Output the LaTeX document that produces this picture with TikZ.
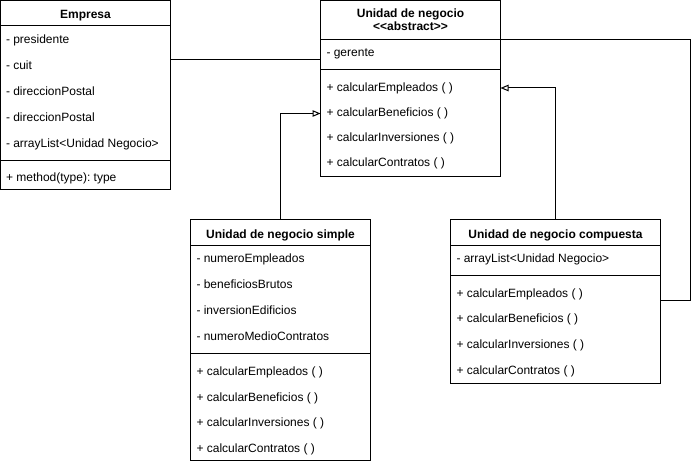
\documentclass[tikz,border=0pt]{standalone}
\usepackage{fontspec}
\setmainfont[Ligatures=NoCommon]{Liberation Sans}
\usetikzlibrary{arrows.meta}
\frenchspacing
\begin{document}
\begin{tikzpicture}[x=1pt,y=-1pt,
  line width=1pt,
  box/.style={draw=black, fill=white, rectangle, inner sep=0pt, outer sep=0pt, anchor=north west},
  txt/.style={anchor=base west, inner sep=0pt, font=\fontsize{12}{14}\selectfont\frenchspacing},
  ttl/.style={anchor=base, inner sep=0pt, font=\fontsize{12}{14}\selectfont\bfseries},
  gen/.style={-{Triangle[open, length=8pt, width=6.5pt, fill=white]}},
  conn/.style={draw=black, line width=1pt}
]
\useasboundingbox (0,0) rectangle (693,465);

% Empresa
\node[box, minimum width=170pt, minimum height=189.5pt] (emp) at (0.5,0.5) {};
\draw ([yshift=-25.5pt]emp.north west) -- ([yshift=-25.5pt]emp.north east);
\draw ([yshift=-160.5pt]emp.north west) -- ([yshift=-160.5pt]emp.north east);
\node[ttl] (empT) at (85.5,18.5) {Empresa};
\node[txt] (empA1) at (5.5,44) {- presidente};
\node[txt] (empA2) at (5.5,70) {- cuit};
\node[txt] (empA3) at (5.5,95.5) {- direccionPostal};
\node[txt] (empA4) at (5.5,121.5) {- direccionPostal};
\node[txt] (empA5) at (5.5,147.5) {- arrayList<Unidad Negocio>};
\node[txt] (empM1) at (5.5,182) {+ method(type):\ type};

% Unidad de negocio
\node[box, minimum width=180pt, minimum height=176.5pt] (udn) at (320.5,0.5) {};
\draw ([yshift=-39pt]udn.north west) -- ([yshift=-39pt]udn.north east);
\draw ([yshift=-69pt]udn.north west) -- ([yshift=-69pt]udn.north east);
\node[ttl] (udnT1) at (410.5,18) {Unidad de negocio};
\node[ttl] (udnT2) at (410.5,31) {<{}<abstract>{}>};
\node[txt] (udnA1) at (326,56.5) {- gerente};
\node[txt] (udnM1) at (326,92) {+ calcularEmpleados ( )};
\node[txt] (udnM2) at (326,117) {+ calcularBeneficios ( )};
\node[txt] (udnM3) at (326,142) {+ calcularInversiones ( )};
\node[txt] (udnM4) at (326,167) {+ calcularContratos ( )};

% Unidad de negocio simple
\node[box, minimum width=180pt, minimum height=240.5pt] (sim) at (190.5,219.5) {};
\draw ([yshift=-25.5pt]sim.north west) -- ([yshift=-25.5pt]sim.north east);
\draw ([yshift=-134pt]sim.north west) -- ([yshift=-134pt]sim.north east);
\node[ttl] (simT) at (280.5,238.5) {Unidad de negocio simple};
\node[txt] (simA1) at (196,262.5) {- numeroEmpleados};
\node[txt] (simA2) at (196,288.5) {- beneficiosBrutos};
\node[txt] (simA3) at (196,314.5) {- inversionEdificios};
\node[txt] (simA4) at (196,340.5) {- numeroMedioContratos};
\node[txt] (simM1) at (196,375) {+ calcularEmpleados ( )};
\node[txt] (simM2) at (196,401) {+ calcularBeneficios ( )};
\node[txt] (simM3) at (196,426.5) {+ calcularInversiones ( )};
\node[txt] (simM4) at (196,452.5) {+ calcularContratos ( )};

% Unidad de negocio compuesta
\node[box, minimum width=210pt, minimum height=163.5pt] (com) at (450.5,219.5) {};
\draw ([yshift=-25.5pt]com.north west) -- ([yshift=-25.5pt]com.north east);
\draw ([yshift=-55.5pt]com.north west) -- ([yshift=-55.5pt]com.north east);
\node[ttl] (comT) at (555.5,238.5) {Unidad de negocio compuesta};
\node[txt] (comA1) at (456,262.5) {- arrayList<Unidad Negocio>};
\node[txt] (comM1) at (456,297) {+ calcularEmpleados ( )};
\node[txt] (comM2) at (456,322.5) {+ calcularBeneficios ( )};
\node[txt] (comM3) at (456,348.5) {+ calcularInversiones ( )};
\node[txt] (comM4) at (456,374.5) {+ calcularContratos ( )};

% connectors
\draw[conn] ([yshift=-59.5pt]emp.north east) -- ([yshift=-59.5pt]udn.north west);
\draw[conn, gen] (sim.north) |- ([yshift=-113pt]udn.north west);
\draw[conn, gen] (com.north) |- ([yshift=-87.5pt]udn.north east);
\coordinate (cr) at (690,39.5);
\draw[conn] ([yshift=-39pt]udn.north east) -- (cr) |- ([yshift=-80.5pt]com.north east);
\end{tikzpicture}
\end{document}
